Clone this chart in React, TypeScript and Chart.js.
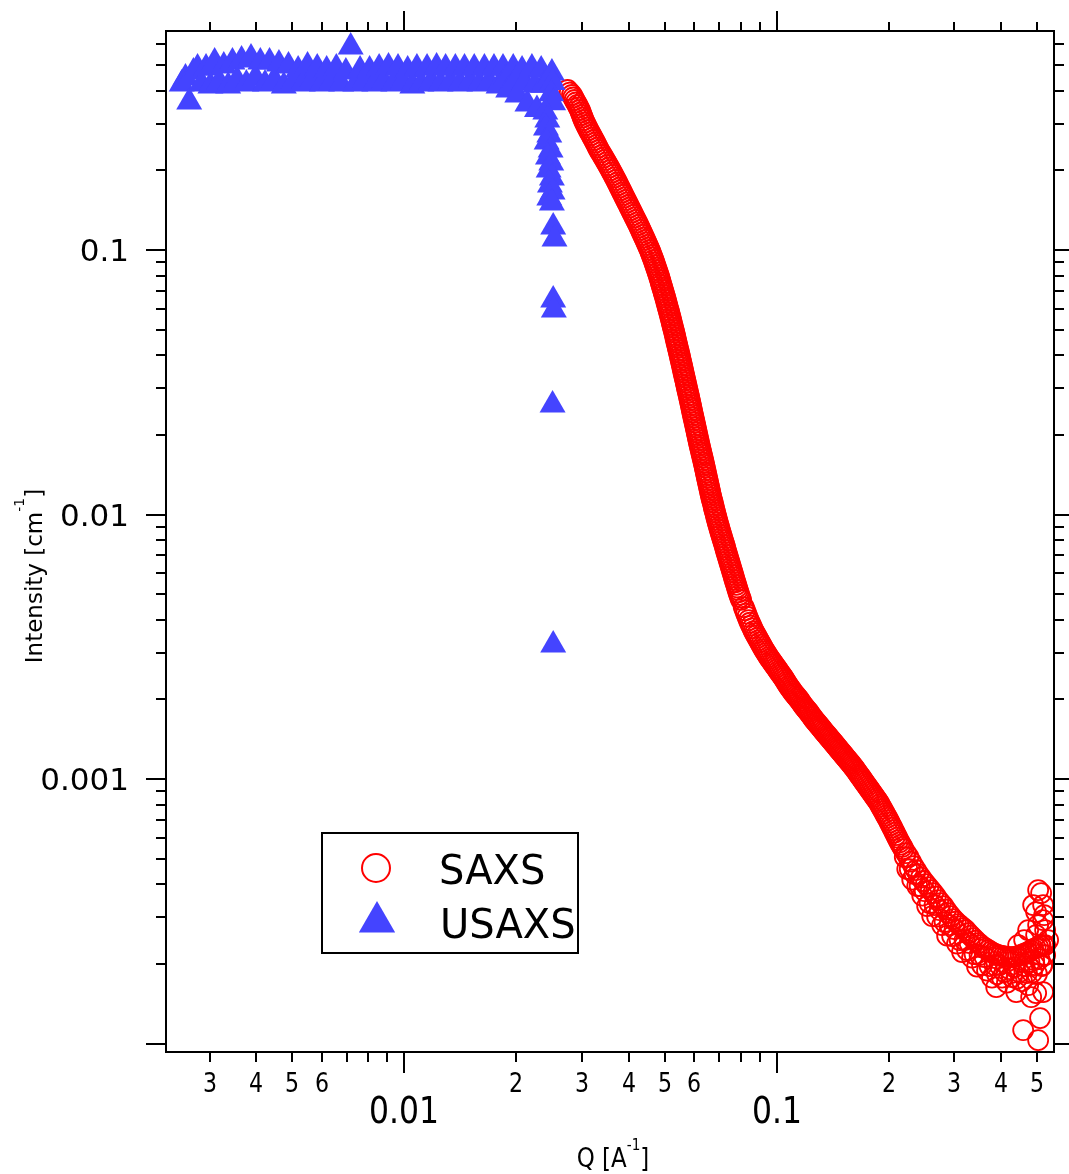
import React, { useEffect, useRef } from 'react';
import { Chart, registerables } from 'chart.js';

Chart.register(...registerables);

// ---------------- data (Q [1/A], Intensity [1/cm]) ----------------
// SAXS steep fall-off
const saxsSteep: [number, number][] = [
  [0.02743, 0.4026], [0.02781, 0.3939], [0.02819, 0.3855], [0.02842, 0.3772], [0.02865, 0.3691], [0.02890, 0.3612],
  [0.02915, 0.3534], [0.02938, 0.3458], [0.02961, 0.3383], [0.02978, 0.3310], [0.02995, 0.3239], [0.03013, 0.3169],
  [0.03030, 0.3101], [0.03053, 0.3034], [0.03075, 0.2969], [0.03099, 0.2905], [0.03123, 0.2843], [0.03150, 0.2782],
  [0.03176, 0.2722], [0.03203, 0.2663], [0.03230, 0.2606], [0.03256, 0.2550], [0.03282, 0.2495], [0.03308, 0.2441],
  [0.03333, 0.2389], [0.03365, 0.2338], [0.03397, 0.2287], [0.03428, 0.2238], [0.03459, 0.2190], [0.03490, 0.2143],
  [0.03521, 0.2096], [0.03552, 0.2051], [0.03582, 0.2007], [0.03612, 0.1964], [0.03641, 0.1922], [0.03672, 0.1881],
  [0.03702, 0.1840], [0.03731, 0.1800], [0.03759, 0.1761], [0.03789, 0.1723], [0.03818, 0.1686], [0.03847, 0.1650],
  [0.03876, 0.1615], [0.03907, 0.1580], [0.03937, 0.1546], [0.03968, 0.1513], [0.03999, 0.1480], [0.04030, 0.1448],
  [0.04061, 0.1417], [0.04092, 0.1386], [0.04123, 0.1357], [0.04156, 0.1328], [0.04188, 0.1299], [0.04221, 0.1271],
  [0.04253, 0.1244], [0.04284, 0.1217], [0.04314, 0.1191], [0.04345, 0.1165], [0.04375, 0.1140], [0.04407, 0.1115],
  [0.04438, 0.1092], [0.04469, 0.1068], [0.04499, 0.1045], [0.04530, 0.1022], [0.04561, 0.1000], [0.04588, 0.09785],
  [0.04614, 0.09574], [0.04642, 0.09368], [0.04669, 0.09166], [0.04694, 0.08969], [0.04718, 0.08776], [0.04743, 0.08587],
  [0.04768, 0.08402], [0.04793, 0.08221], [0.04818, 0.08045], [0.04841, 0.07872], [0.04863, 0.07702], [0.04884, 0.07536],
  [0.04905, 0.07374], [0.04928, 0.07215], [0.04951, 0.07060], [0.04973, 0.06908], [0.04995, 0.06760], [0.05018, 0.06614],
  [0.05040, 0.06472], [0.05060, 0.06333], [0.05080, 0.06196], [0.05102, 0.06063], [0.05124, 0.05932], [0.05145, 0.05804],
  [0.05166, 0.05680], [0.05187, 0.05558], [0.05207, 0.05438], [0.05227, 0.05321], [0.05246, 0.05206], [0.05267, 0.05094],
  [0.05288, 0.04985], [0.05309, 0.04878], [0.05329, 0.04772], [0.05347, 0.04669], [0.05365, 0.04569], [0.05385, 0.04471],
  [0.05405, 0.04375], [0.05425, 0.04281], [0.05445, 0.04188], [0.05466, 0.04098], [0.05486, 0.04010], [0.05505, 0.03924],
  [0.05523, 0.03839], [0.05544, 0.03756], [0.05564, 0.03676], [0.05583, 0.03597], [0.05602, 0.03519], [0.05621, 0.03443],
  [0.05640, 0.03369], [0.05661, 0.03296], [0.05681, 0.03226], [0.05701, 0.03157], [0.05720, 0.03088], [0.05740, 0.03022],
  [0.05759, 0.02957], [0.05781, 0.02893], [0.05802, 0.02831], [0.05822, 0.02770], [0.05841, 0.02711], [0.05861, 0.02653],
  [0.05881, 0.02595], [0.05900, 0.02539], [0.05918, 0.02485], [0.05938, 0.02432], [0.05958, 0.02379], [0.05979, 0.02328],
  [0.06000, 0.02278], [0.06021, 0.02229], [0.06041, 0.02181], [0.06062, 0.02134], [0.06082, 0.02088], [0.06102, 0.02043],
  [0.06122, 0.01999], [0.06143, 0.01956], [0.06164, 0.01914], [0.06185, 0.01873], [0.06206, 0.01832], [0.06229, 0.01793],
  [0.06252, 0.01754], [0.06275, 0.01716], [0.06298, 0.01680], [0.06322, 0.01644], [0.06345, 0.01608], [0.06368, 0.01573],
  [0.06390, 0.01540], [0.06412, 0.01507], [0.06433, 0.01474], [0.06455, 0.01442], [0.06476, 0.01411], [0.06498, 0.01381],
  [0.06520, 0.01351], [0.06543, 0.01322], [0.06565, 0.01294], [0.06588, 0.01266], [0.06610, 0.01239], [0.06632, 0.01212],
  [0.06654, 0.01186], [0.06679, 0.01160], [0.06704, 0.01136], [0.06731, 0.01112], [0.06758, 0.01087], [0.06783, 0.01064],
  [0.06807, 0.01041], [0.06835, 0.01019], [0.06863, 0.009966], [0.06891, 0.009751], [0.06918, 0.009542], [0.06948, 0.009337],
  [0.06978, 0.009135], [0.07009, 0.008938], [0.07039, 0.008746], [0.07072, 0.008558], [0.07104, 0.008374], [0.07137, 0.008194],
  [0.07170, 0.008017], [0.07206, 0.007844], [0.07241, 0.007676], [0.07271, 0.007511], [0.07301, 0.007349], [0.07335, 0.007191],
  [0.07368, 0.007036], [0.07403, 0.006885], [0.07437, 0.006736], [0.07472, 0.006591], [0.07506, 0.006449], [0.07541, 0.006310],
  [0.07576, 0.006175], [0.07611, 0.006042], [0.07646, 0.005912], [0.07680, 0.005785], [0.07713, 0.005660], [0.07751, 0.005538],
  [0.07789, 0.005419], [0.07825, 0.005302], [0.07861, 0.005188], [0.07900, 0.005076], [0.07939, 0.004967], [0.07984, 0.004860],
  [0.08029, 0.004756],
];

// SAXS knee, shoulder and high-Q tail
const saxsTail: [number, number][] = [
  [0.08157, 0.004469], [0.08220, 0.004346], [0.08284, 0.004223], [0.08348, 0.004107], [0.08413, 0.003991], [0.08478, 0.003898],
  [0.08544, 0.003804], [0.08610, 0.003715], [0.08677, 0.003626], [0.08744, 0.003557], [0.08812, 0.003487], [0.08880, 0.003420],
  [0.08949, 0.003353], [0.09018, 0.003289], [0.09088, 0.003224], [0.09158, 0.003162], [0.09229, 0.003100], [0.09301, 0.003047],
  [0.09373, 0.002994], [0.09446, 0.002943], [0.09519, 0.002891], [0.09593, 0.002848], [0.09667, 0.002805], [0.09742, 0.002763],
  [0.09817, 0.002721], [0.09893, 0.002680], [0.09970, 0.002639], [0.1005, 0.002600], [0.1012, 0.002560], [0.1020, 0.002522],
  [0.1028, 0.002483], [0.1036, 0.002446], [0.1044, 0.002408], [0.1052, 0.002367], [0.1060, 0.002326], [0.1068, 0.002287],
  [0.1077, 0.002247], [0.1085, 0.002213], [0.1094, 0.002179], [0.1102, 0.002146], [0.1111, 0.002113], [0.1120, 0.002086],
  [0.1128, 0.002059], [0.1137, 0.002033], [0.1146, 0.002006], [0.1155, 0.001976], [0.1164, 0.001945], [0.1173, 0.001916],
  [0.1182, 0.001887], [0.1191, 0.001863], [0.1200, 0.001838], [0.1209, 0.001815], [0.1219, 0.001792], [0.1228, 0.001765],
  [0.1238, 0.001737], [0.1248, 0.001712], [0.1257, 0.001686], [0.1267, 0.001664], [0.1277, 0.001642], [0.1287, 0.001621],
  [0.1297, 0.001600], [0.1307, 0.001580], [0.1317, 0.001559], [0.1327, 0.001539], [0.1337, 0.001518], [0.1347, 0.001499],
  [0.1358, 0.001479], [0.1369, 0.001460], [0.1379, 0.001441], [0.1390, 0.001423], [0.1401, 0.001404], [0.1412, 0.001386],
  [0.1423, 0.001368], [0.1434, 0.001351], [0.1445, 0.001333], [0.1456, 0.001316], [0.1467, 0.001298], [0.1478, 0.001282],
  [0.1490, 0.001265], [0.1502, 0.001249], [0.1513, 0.001232], [0.1525, 0.001216], [0.1537, 0.001200], [0.1549, 0.001185],
  [0.1561, 0.001169], [0.1573, 0.001154], [0.1585, 0.001139], [0.1597, 0.001124], [0.1610, 0.001109], [0.1622, 0.001093],
  [0.1635, 0.001076], [0.1648, 0.001060], [0.1660, 0.001044], [0.1673, 0.001029], [0.1686, 0.001013], [0.1699, 0.0009976],
  [0.1712, 0.0009822], [0.1725, 0.0009675], [0.1739, 0.0009527], [0.1752, 0.0009385], [0.1766, 0.0009242], [0.1780, 0.0009103],
  [0.1793, 0.0008964], [0.1807, 0.0008830], [0.1821, 0.0008695], [0.1835, 0.0008565], [0.1849, 0.0008434], [0.1863, 0.0008308],
  [0.1878, 0.0008181], [0.1893, 0.0008024], [0.1907, 0.0007867], [0.1922, 0.0007716], [0.1937, 0.0007565], [0.1952, 0.0007419],
  [0.1967, 0.0007273], [0.1982, 0.0007134], [0.1998, 0.0006994], [0.2013, 0.0006845], [0.2029, 0.0006696], [0.2045, 0.0006554],
  [0.2061, 0.0006411], [0.2077, 0.0006275], [0.2093, 0.0006138], [0.2109, 0.0006008], [0.2125, 0.0005877], [0.2141, 0.0005764],
  [0.2158, 0.0005651], [0.2175, 0.0005543], [0.2192, 0.0005434], [0.2226, 0.0005248], [0.2261, 0.0005069], [0.2296, 0.0004873],
  [0.2331, 0.0004686], [0.2368, 0.0004526], [0.2404, 0.0004371], [0.2442, 0.0004240], [0.2480, 0.0004112], [0.2518, 0.0004006],
  [0.2557, 0.0003903], [0.2597, 0.0003803], [0.2637, 0.0003705], [0.2678, 0.0003595], [0.2720, 0.0003486], [0.2762, 0.0003396],
  [0.2805, 0.0003309], [0.2849, 0.0003208], [0.2893, 0.0003113], [0.2938, 0.0003032], [0.2984, 0.0002954], [0.3030, 0.0002891],
  [0.3078, 0.0002829], [0.3125, 0.0002780], [0.3174, 0.0002732], [0.3223, 0.0002684], [0.3274, 0.0002615], [0.3324, 0.0002558],
  [0.3376, 0.0002503], [0.3429, 0.0002450], [0.3482, 0.0002398], [0.3536, 0.0002356], [0.3591, 0.0002316], [0.3647, 0.0002286],
  [0.3704, 0.0002255], [0.3761, 0.0002226], [0.3820, 0.0002197], [0.3879, 0.0002178], [0.3940, 0.0002159], [0.4001, 0.0002150],
  [0.4063, 0.0002140], [0.4126, 0.0002131], [0.4191, 0.0002122], [0.4256, 0.0002122], [0.4322, 0.0002122], [0.4389, 0.0002131],
  [0.4457, 0.0002140], [0.4527, 0.0002159], [0.4597, 0.0002178], [0.4668, 0.0002197], [0.4741, 0.0002216], [0.4815, 0.0002245],
  [0.4890, 0.0002276], [0.4966, 0.0002296], [0.5043, 0.0002316], [0.5121, 0.0002336], [0.5201, 0.0002356],
];

// SAXS noisy points below the tail
const saxsScatter: [number, number][] = [
  [0.2210, 0.0005068], [0.2244, 0.0004565], [0.2279, 0.0004566], [0.2314, 0.0004166], [0.2350, 0.0004371], [0.2387, 0.0003937],
  [0.2423, 0.0003937], [0.2462, 0.0003625], [0.2500, 0.0003769], [0.2538, 0.0003308], [0.2577, 0.0003395], [0.2618, 0.0003033],
  [0.2658, 0.0003338], [0.2699, 0.0003021], [0.2742, 0.0003195], [0.2784, 0.0002804], [0.2827, 0.0002878], [0.2872, 0.0002558],
  [0.2916, 0.0002804], [0.2962, 0.0002548], [0.3008, 0.0002708], [0.3054, 0.0002387], [0.3103, 0.0002461], [0.3150, 0.0002217],
  [0.3199, 0.0002461], [0.3249, 0.0002255], [0.3300, 0.0002397], [0.3351, 0.0002112], [0.3403, 0.0002177], [0.3456, 0.0001954],
  [0.3510, 0.0002160], [0.3564, 0.0001980], [0.3620, 0.0002123], [0.3676, 0.0001888], [0.3734, 0.0001962], [0.3791, 0.0001775],
  [0.3851, 0.0001979], [0.3910, 0.0001830], [0.3972, 0.0001979], [0.4033, 0.0001775], [0.4096, 0.0001862], [0.4159, 0.0001699],
  [0.4225, 0.0001912], [0.4290, 0.0001783], [0.4357, 0.0001945], [0.4424, 0.0001760], [0.4493, 0.0001862], [0.4563, 0.0001722],
  [0.4634, 0.0001962], [0.4705, 0.0001846], [0.4779, 0.0002031], [0.4854, 0.0001854], [0.4929, 0.0001980], [0.5006, 0.0001831],
  [0.5083, 0.0002086], [0.5162, 0.0001963], [0.5243, 0.0002160],
  [0.5043, 0.0003803], [0.5137, 0.0003705], [0.4981, 0.0003140], [0.5201, 0.0002929], [0.4981, 0.0001551], [0.5105, 0.0001248],
  [0.4597, 0.0001124], [0.5043, 0.0001030], [0.3891, 0.0001634], [0.4403, 0.0001565], [0.5201, 0.0001565], [0.4830, 0.0001498],
  [0.4741, 0.0001663], [0.4890, 0.0003338], [0.5201, 0.0003338], [0.5043, 0.0002804], [0.5266, 0.0002684], [0.4741, 0.0002684],
  [0.5105, 0.0002356], [0.5266, 0.0002159], [0.4920, 0.0002067], [0.5169, 0.0001979], [0.4625, 0.0002461], [0.4457, 0.0002356],
  [0.5266, 0.0002356], [0.5364, 0.0002461], [0.4981, 0.0002570], [0.5233, 0.0003059],
];

// USAXS plateau
const usaxsPlateau: [number, number][] = [
  [0.00252, 0.4243], [0.00258, 0.4470], [0.00264, 0.3626], [0.00271, 0.4710], [0.00278, 0.4876], [0.00285, 0.4243],
  [0.00293, 0.4876], [0.00301, 0.4169], [0.00309, 0.5137], [0.00318, 0.4318], [0.00327, 0.4962], [0.00336, 0.4169],
  [0.00345, 0.5137], [0.00355, 0.4393], [0.00365, 0.5226], [0.00376, 0.4243], [0.00387, 0.5318], [0.00398, 0.4470],
  [0.00410, 0.5137], [0.00422, 0.4243], [0.00434, 0.5137], [0.00447, 0.4393], [0.00460, 0.5048], [0.00474, 0.4169],
  [0.00488, 0.4962], [0.00503, 0.4318], [0.00518, 0.4791], [0.00533, 0.4243], [0.00549, 0.4962], [0.00566, 0.4393],
  [0.00583, 0.4876], [0.00600, 0.4243], [0.00618, 0.4791], [0.00637, 0.4318], [0.00656, 0.4876], [0.00676, 0.4243],
  [0.00696, 0.4710], [0.00717, 0.5855], [0.00738, 0.4243], [0.00760, 0.4791], [0.00783, 0.4393], [0.00806, 0.4791],
  [0.00830, 0.4243], [0.00855, 0.4876], [0.00880, 0.4318], [0.00906, 0.4919], [0.00933, 0.4243], [0.00961, 0.4876],
  [0.00990, 0.4318], [0.0102, 0.4791], [0.0105, 0.4169], [0.0108, 0.4876], [0.0111, 0.4243], [0.0115, 0.4876],
  [0.0118, 0.4318], [0.0122, 0.4919], [0.0125, 0.4243], [0.0129, 0.4876], [0.0133, 0.4318], [0.0137, 0.4876],
  [0.0141, 0.4243], [0.0145, 0.4876], [0.0150, 0.4318], [0.0154, 0.4876], [0.0159, 0.4243], [0.0164, 0.4876],
  [0.0169, 0.4318], [0.0174, 0.4876], [0.0179, 0.4169], [0.0184, 0.4876], [0.0187, 0.4450], [0.0190, 0.4026],
  [0.0196, 0.4876], [0.0199, 0.4400], [0.0201, 0.3855], [0.0207, 0.4791], [0.0210, 0.4300], [0.0214, 0.3565],
  [0.0220, 0.4876], [0.0224, 0.4200], [0.0227, 0.3400], [0.0233, 0.4791], [0.0236, 0.4200],
];

// USAXS drop at the end of the instrument range
const usaxsDrop: [number, number][] = [
  [0.0249, 0.4669], [0.0246, 0.4500], [0.0250, 0.4300], [0.0248, 0.3900], [0.0251, 0.3600],
  [0.0239, 0.3323], [0.0242, 0.3100], [0.0240, 0.2891], [0.0245, 0.2721], [0.0241, 0.2560], [0.0247, 0.2388],
  [0.0243, 0.2247], [0.0248, 0.2133], [0.0244, 0.2007], [0.0249, 0.1872], [0.0246, 0.1761], [0.0250, 0.1657],
  [0.0245, 0.1573], [0.0249, 0.1505], [0.0251, 0.1222], [0.0253, 0.1100], [0.0251, 0.0647], [0.0252, 0.0593],
  [0.0250, 0.02594], [0.0251, 0.003210],
];

const seriesNames = ['SAXS', 'USAXS'];
const xRange = [0.002287, 0.5563];
const yRange = [0.0000929, 0.673];

const xMajorTicks = [0.01, 0.1];
const xMajorLabels = ['0.01', '0.1'];
const xMinorTicks = [0.003, 0.004, 0.005, 0.006, 0.007, 0.008, 0.009,
  0.02, 0.03, 0.04, 0.05, 0.06, 0.07, 0.08, 0.09, 0.2, 0.3, 0.4, 0.5];
const xMinorLabels = ['3', '4', '5', '6', '', '', '', '2', '3', '4', '5', '6', '', '', '', '2', '3', '4', '5'];
const yMajorTicks = [0.0001, 0.001, 0.01, 0.1];
const yMajorLabels = ['', '0.001', '0.01', '0.1'];
const yMinorTicks = [0.0002, 0.0003, 0.0004, 0.0005, 0.0006, 0.0007, 0.0008, 0.0009,
  0.002, 0.003, 0.004, 0.005, 0.006, 0.007, 0.008, 0.009,
  0.02, 0.03, 0.04, 0.05, 0.06, 0.07, 0.08, 0.09,
  0.2, 0.3, 0.4, 0.5, 0.6];

const RED = '#ff0000';
const BLUE = 'rgb(68,68,255)';
const FONT = '"DejaVu Sans", "Liberation Sans", sans-serif';

function txt(ctx: CanvasRenderingContext2D, s: string, x: number, y: number, size: number, align: CanvasTextAlign, sx = 1) {
  ctx.save();
  ctx.translate(x, y);
  ctx.scale(sx, 1);
  ctx.font = `${size}px ${FONT}`;
  ctx.textAlign = align;
  ctx.textBaseline = 'alphabetic';
  ctx.fillText(s, 0, 0);
  ctx.restore();
}

const igorPlugin = {
  id: 'igorFrame',
  afterDatasetsDraw(chart: any) {
    const ctx: CanvasRenderingContext2D = chart.ctx;
    const a = chart.chartArea;
    const xs = chart.scales.x;
    const ys = chart.scales.y;
    ctx.save();
    ctx.strokeStyle = '#000';
    ctx.fillStyle = '#000';
    ctx.lineWidth = 2;
    ctx.strokeRect(a.left, a.top, a.right - a.left, a.bottom - a.top);
    const line = (x1: number, y1: number, x2: number, y2: number) => {
      ctx.beginPath(); ctx.moveTo(x1, y1); ctx.lineTo(x2, y2); ctx.stroke();
    };
    xMinorTicks.forEach((v, i) => {
      const px = Math.round(xs.getPixelForValue(v));
      line(px, a.bottom, px, a.bottom + 10);
      line(px, a.top, px, a.top - 9);
      if (xMinorLabels[i]) txt(ctx, xMinorLabels[i], px, 1092, 26, 'center', 0.85);
    });
    xMajorTicks.forEach((v, i) => {
      const px = Math.round(xs.getPixelForValue(v));
      line(px, a.bottom, px, a.bottom + 21);
      line(px, a.top, px, a.top - 20);
      txt(ctx, xMajorLabels[i], px, 1123, 37, 'center', 0.85);
    });
    yMinorTicks.forEach((v) => {
      const py = Math.round(ys.getPixelForValue(v));
      line(a.left, py, a.left - 10, py);
      line(a.right, py, a.right + 10, py);
    });
    yMajorTicks.forEach((v, i) => {
      const py = Math.round(ys.getPixelForValue(v));
      line(a.left, py, a.left - 20, py);
      line(a.right, py, a.right + 20, py);
      if (yMajorLabels[i]) txt(ctx, yMajorLabels[i], 129, py + 11, 31, 'right');
    });
    // X title: Q [A^-1]
    {
      const size = 27, sx = 0.85;
      ctx.font = `${size}px ${FONT}`;
      const w1 = ctx.measureText('Q [A').width * sx;
      ctx.font = `16px ${FONT}`;
      const w2 = ctx.measureText('-1').width * sx;
      ctx.font = `${size}px ${FONT}`;
      const w3 = ctx.measureText(']').width * sx;
      const x0 = 613 - (w1 + w2 + w3) / 2;
      txt(ctx, 'Q [A', x0, 1167, size, 'left', sx);
      txt(ctx, '-1', x0 + w1, 1150, 16, 'left', sx);
      txt(ctx, ']', x0 + w1 + w2, 1167, size, 'left', sx);
    }
    // Y title (rotated)
    {
      ctx.save();
      ctx.translate(42, 576);
      ctx.rotate(-Math.PI / 2);
      const size = 23;
      ctx.font = `${size}px ${FONT}`;
      const w1 = ctx.measureText('Intensity [cm').width;
      ctx.font = `14px ${FONT}`;
      const w2 = ctx.measureText('-1').width;
      ctx.font = `${size}px ${FONT}`;
      const w3 = ctx.measureText(']').width;
      const x0 = -(w1 + w2 + w3) / 2;
      ctx.textAlign = 'left';
      ctx.textBaseline = 'alphabetic';
      ctx.fillText('Intensity [cm', x0, 0);
      ctx.font = `14px ${FONT}`;
      ctx.fillText('-1', x0 + w1, -18);
      ctx.font = `${size}px ${FONT}`;
      ctx.fillText(']', x0 + w1 + w2, 0);
      ctx.restore();
    }
    // Legend
    {
      ctx.lineWidth = 2;
      ctx.strokeStyle = '#000';
      ctx.strokeRect(322, 833, 256, 120);
      ctx.beginPath();
      ctx.strokeStyle = RED;
      ctx.lineWidth = 2;
      ctx.arc(376, 868, 14, 0, Math.PI * 2);
      ctx.stroke();
      const r = 21, cx = 377, cy = 922;
      ctx.beginPath();
      ctx.fillStyle = BLUE;
      ctx.moveTo(cx, cy - r);
      ctx.lineTo(cx + r * Math.sin(2 * Math.PI / 3), cy - r * Math.cos(2 * Math.PI / 3));
      ctx.lineTo(cx + r * Math.sin(4 * Math.PI / 3), cy - r * Math.cos(4 * Math.PI / 3));
      ctx.closePath();
      ctx.fill();
      ctx.fillStyle = '#000';
      txt(ctx, seriesNames[0], 439, 884, 40, 'left');
      txt(ctx, seriesNames[1], 440, 938, 40, 'left');
    }
    ctx.restore();
  },
};

const toPoints = (rows: [number, number][]) => rows.map(([q, i]) => ({ x: q, y: i }));

export default function App() {
  const ref = useRef<HTMLCanvasElement>(null);
  useEffect(() => {
    document.body.style.margin = '0';
    const canvas = ref.current;
    if (!canvas) return;
    const chart = new Chart(canvas, {
      type: 'scatter',
      data: {
        datasets: [
          {
            label: seriesNames[0],
            data: toPoints([...saxsSteep, ...saxsTail, ...saxsScatter]),
            pointStyle: 'circle',
            pointRadius: 10,
            borderColor: RED,
            backgroundColor: 'rgba(0,0,0,0)',
            borderWidth: 1.8,
            showLine: false,
            order: 2,
            clip: false as any,
          },
          {
            label: seriesNames[1],
            data: toPoints([...usaxsPlateau, ...usaxsDrop]),
            pointStyle: 'triangle',
            pointRadius: 15,
            borderWidth: 0,
            borderColor: BLUE,
            backgroundColor: BLUE,
            showLine: false,
            order: 1,
            clip: false as any,
          },
        ],
      },
      options: {
        responsive: false,
        animation: false,
        devicePixelRatio: 1,
        events: [],
        layout: { padding: { left: 166, right: 13, top: 31, bottom: 122 } },
        scales: {
          x: { type: 'logarithmic', min: xRange[0], max: xRange[1], display: false },
          y: { type: 'logarithmic', min: yRange[0], max: yRange[1], display: false },
        },
        plugins: {
          legend: { display: false },
          tooltip: { enabled: false },
        },
      },
      plugins: [igorPlugin],
    });
    return () => chart.destroy();
  }, []);
  return (
    <div style={{ width: 1069, height: 1174, background: '#fff' }}>
      <canvas ref={ref} width={1069} height={1174} style={{ display: 'block' }} />
    </div>
  );
}
